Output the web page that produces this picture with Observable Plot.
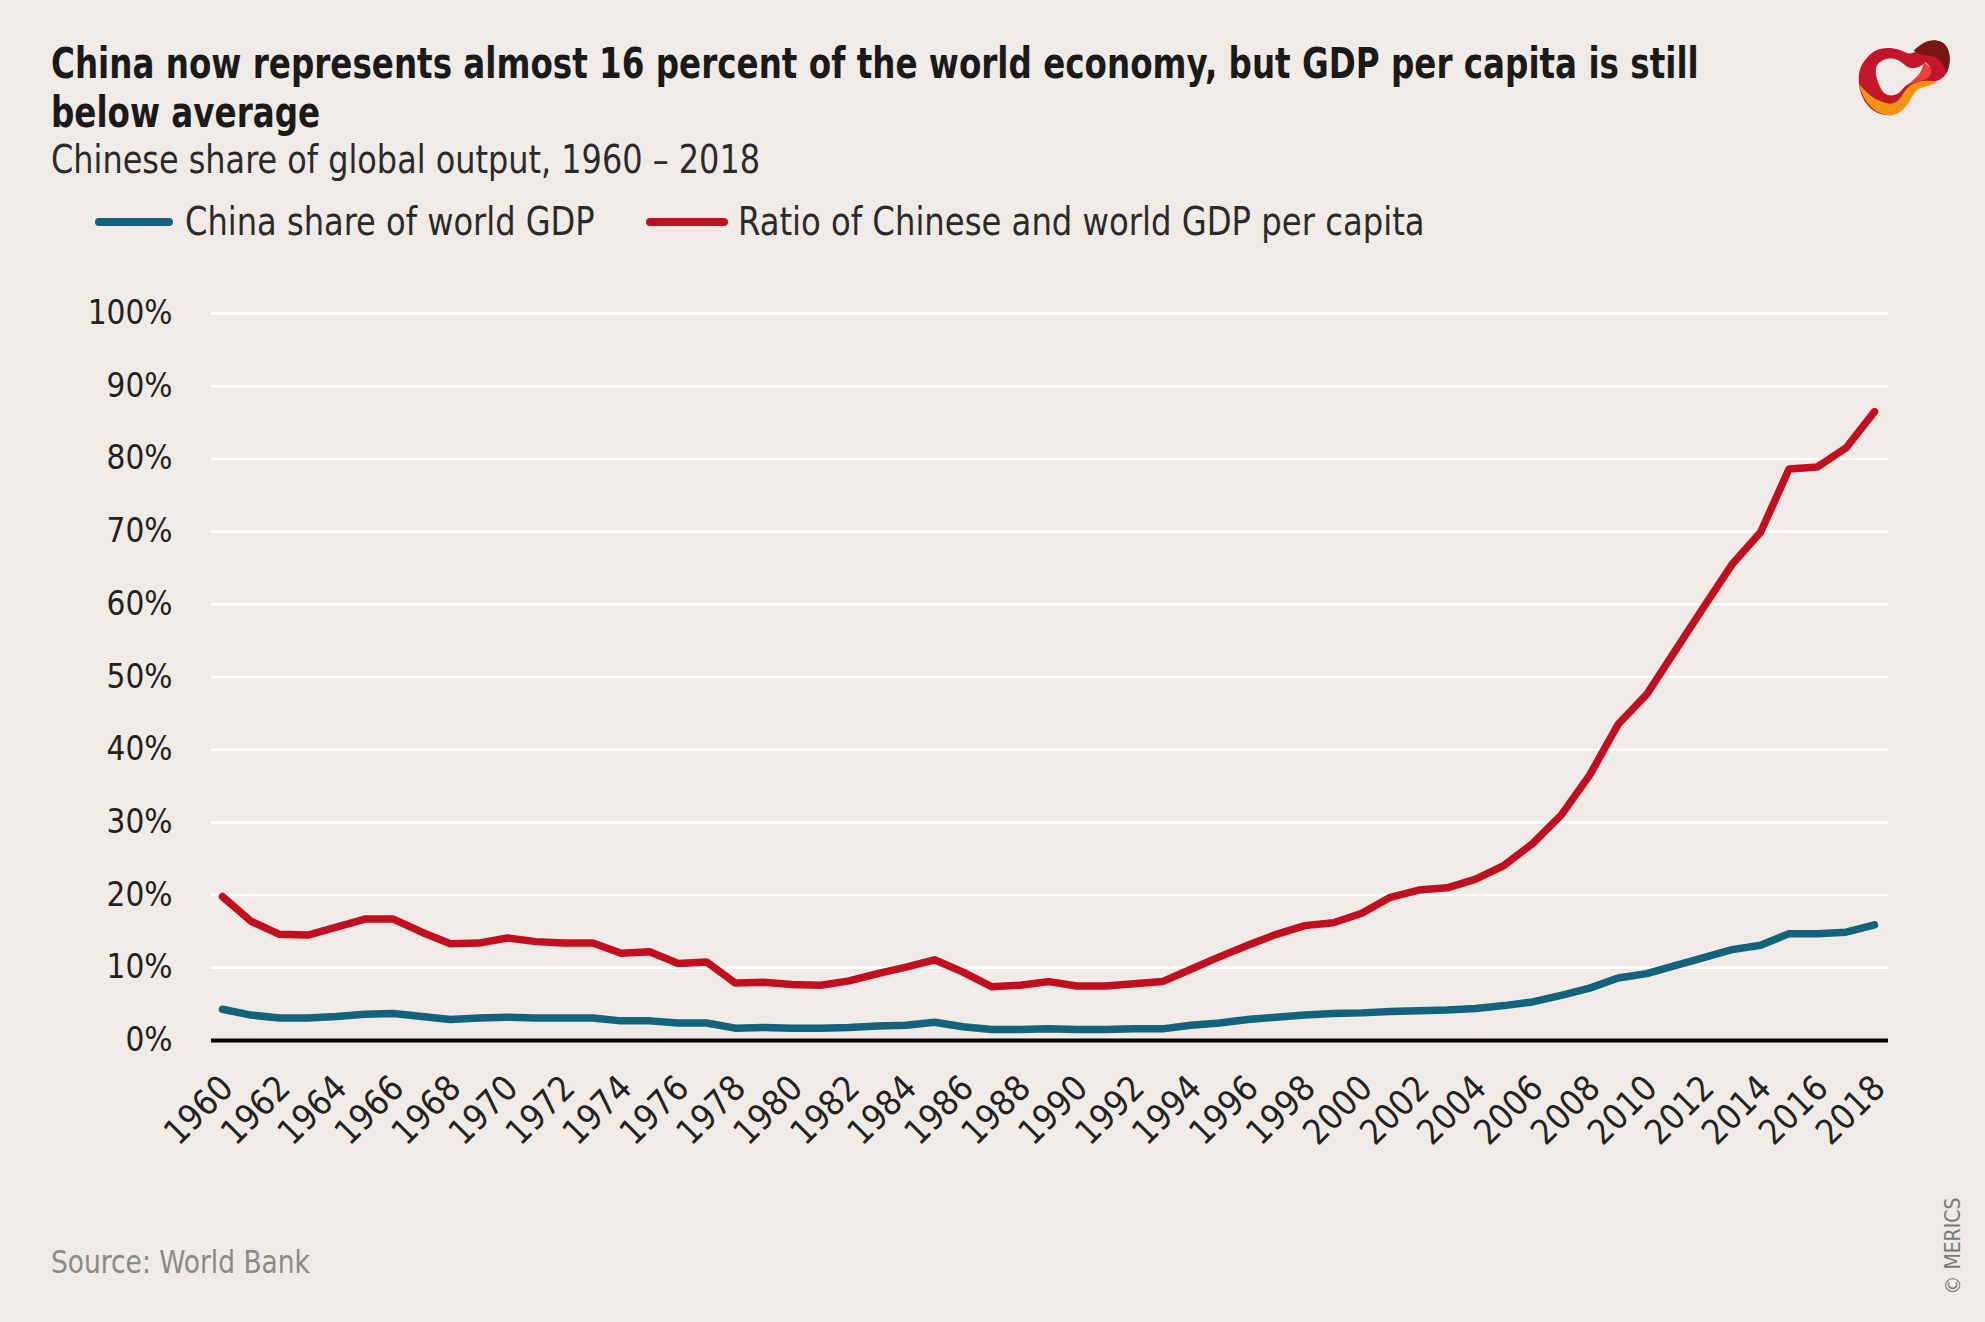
<!DOCTYPE html>
<html>
<head>
<meta charset="utf-8">
<script src="https://cdn.jsdelivr.net/npm/d3@7"></script>
<script src="https://cdn.jsdelivr.net/npm/@observablehq/plot@0.6"></script>
<style>
  html, body { margin: 0; padding: 0; background: #f0ebe7; }
  body { width: 1985px; height: 1322px; position: relative; overflow: hidden;
         font-family: "DejaVu Sans Condensed", "Liberation Sans Narrow", "Roboto", sans-serif; }
  .abs { position: absolute; white-space: nowrap; transform-origin: 0 0; }
  #title { left: 51px; top: 39px; font-size: 42px; line-height: 49px; font-weight: bold; color: #1a1a1a; transform: scaleX(0.862); }
  #subtitle { left: 51px; top: 140px; font-size: 39px; line-height: 39px; color: #2a2a2a; transform: scaleX(0.91); }
  .legtext { top: 202px; font-size: 39px; line-height: 39px; color: #2a2a2a; }
  .legline { height: 8px; border-radius: 4px; top: 218px; }
  #chart { position: absolute; left: 0; top: 250px; }
  #source { left: 51px; top: 1246px; font-size: 32px; line-height: 32px; color: #8a8a8a; transform: scaleX(0.92); }
  #copy { left: 1953px; top: 1246px; font-size: 21px; color: #7a7a7a; transform: rotate(-90deg) translate(-50%, -50%); }
  #logo { left: 1855px; top: 36px; width: 98px; height: 80px; }
</style>
</head>
<body>
<div id="title" class="abs">China now represents almost 16 percent of the world economy, but GDP per capita is still<br>below average</div>
<div id="subtitle" class="abs">Chinese share of global output, 1960 – 2018</div>
<div class="abs legline" style="left:95px;width:78px;background:#12637b"></div>
<div class="abs legtext" style="left:185px;transform:scaleX(0.915)">China share of world GDP</div>
<div class="abs legline" style="left:646px;width:82px;background:#c10f20"></div>
<div class="abs legtext" style="left:738px;transform:scaleX(0.92)">Ratio of Chinese and world GDP per capita</div>
<div id="chart"></div>
<div id="source" class="abs">Source: World Bank</div>
<div id="copy" class="abs">© MERICS</div>
<svg id="logo" class="abs" viewBox="0 0 100 80">
  <path d="M12,22 C22,8 40,10 52,16 C62,21 68,6 82,4 C96,3 100,22 94,36 C88,48 74,46 64,52 C54,58 54,78 36,80 C18,81 6,66 4,48 C3,36 6,28 12,22 Z" fill="#c4162a"/>
  <path d="M4,48 C8,66 20,80 36,80 C54,78 56,60 64,54 C70,50 78,50 84,46 C74,44 64,44 56,50 C48,56 46,70 34,68 C22,66 14,60 4,48 Z" fill="#f39314"/>
  <path d="M60,14 C68,6 76,2 84,4 C96,6 100,22 94,36 C90,28 86,22 80,20 C72,18 66,20 60,14 Z" fill="#7a1616"/>
  <path d="M22,30 C28,20 42,20 50,28 C58,36 68,30 72,26 C78,30 80,38 70,42 C60,46 54,46 48,54 C42,62 30,62 26,52 C22,44 20,36 22,30 Z" fill="#f0ebe7"/>
  <path d="M70,26 C78,30 82,38 72,43 C66,46 58,46 54,50 C60,42 68,40 70,26 Z" fill="#e8403a"/>
</svg>
<script>
const years = [1960,1961,1962,1963,1964,1965,1966,1967,1968,1969,
  1970,1971,1972,1973,1974,1975,1976,1977,1978,1979,
  1980,1981,1982,1983,1984,1985,1986,1987,1988,1989,
  1990,1991,1992,1993,1994,1995,1996,1997,1998,1999,
  2000,2001,2002,2003,2004,2005,2006,2007,2008,2009,
  2010,2011,2012,2013,2014,2015,2016,2017,2018];
const chinaShare = [4.3,3.5,3.1,3.1,3.3,3.6,3.7,3.3,2.9,3.1,
  3.2,3.1,3.1,3.1,2.7,2.7,2.4,2.4,1.7,1.8,
  1.7,1.7,1.8,2.0,2.1,2.5,1.9,1.5,1.5,1.6,
  1.5,1.5,1.6,1.6,2.1,2.4,2.9,3.2,3.5,3.7,
  3.8,4.0,4.1,4.2,4.4,4.8,5.3,6.2,7.2,8.6,
  9.2,10.3,11.4,12.5,13.1,14.7,14.7,14.9,15.9];
const perCapitaRatio = [19.8,16.4,14.6,14.5,15.6,16.7,16.7,14.9,13.3,13.4,
  14.1,13.6,13.4,13.4,12.0,12.2,10.6,10.8,7.9,8.0,
  7.7,7.6,8.2,9.2,10.1,11.1,9.4,7.4,7.6,8.1,
  7.5,7.5,7.8,8.1,9.8,11.5,13.1,14.6,15.8,16.2,
  17.5,19.7,20.7,21.0,22.2,24.1,27.1,31.0,36.5,43.5,
  47.6,53.6,59.6,65.5,69.9,78.6,78.9,81.5,86.5];
const yTicks = [0,10,20,30,40,50,60,70,80,90,100];
const xTickYears = [1960,1962,1964,1966,1968,1970,1972,1974,1976,1978,1980,1982,1984,1986,1988,1990,1992,1994,1996,1998,2000,2002,2004,2006,2008,2010,2012,2014,2016,2018];
const seriesNames = ["China share of world GDP", "Ratio of Chinese and world GDP per capita"];
const seriesColors = ["#12637b", "#c10f20"];

const rows = [];
years.forEach((yr, i) => {
  rows.push({year: yr, value: chinaShare[i], series: seriesNames[0]});
});
years.forEach((yr, i) => {
  rows.push({year: yr, value: perCapitaRatio[i], series: seriesNames[1]});
});

const font = '"DejaVu Sans Condensed", "Liberation Sans Narrow", "Roboto", sans-serif';
const chart = Plot.plot({
  width: 1985,
  height: 920,
  marginLeft: 211,
  marginRight: 97,
  marginTop: 63,
  marginBottom: 130,
  style: {background: "transparent", fontFamily: font, fontSize: "33px", color: "#222", overflow: "visible"},
  x: {type: "linear", domain: [1960, 2018], insetLeft: 11, insetRight: 14, axis: null},
  y: {domain: [0, 100], axis: null},
  color: {domain: seriesNames, range: seriesColors},
  marks: [
    Plot.ruleY(yTicks.filter(v => v > 0), {stroke: "#ffffff", strokeWidth: 2.5}),
    Plot.ruleY([0], {stroke: "#000000", strokeWidth: 4}),
    Plot.axisY({ticks: yTicks, tickSize: 0, tickPadding: 39, tickFormat: d => d + "%", fontSize: 33, label: null}),
    Plot.line(rows, {x: "year", y: "value", z: "series", stroke: "series", strokeWidth: 7.5, strokeLinejoin: "round", strokeLinecap: "round"}),
    Plot.text(xTickYears, {x: d => d, y: d => 0, text: d => String(d), rotate: -45, textAnchor: "end", lineAnchor: "top", dx: -5, dy: 32, fontSize: 35, fill: "#222"})
  ]
});
document.getElementById("chart").appendChild(chart);
</script>
</body>
</html>
